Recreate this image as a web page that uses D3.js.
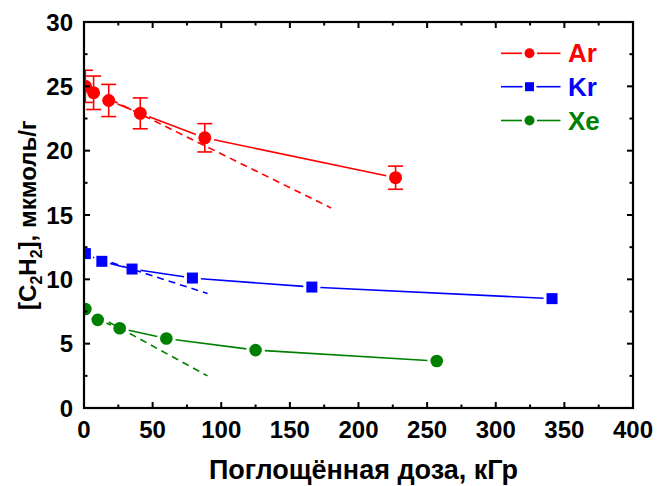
<!DOCTYPE html>
<html>
<head>
<meta charset="utf-8">
<script src="https://cdn.jsdelivr.net/npm/d3@7"></script>
<style>
  body { margin: 0; background: #fff; }
  text { font-family: "Liberation Sans", Arial, sans-serif; font-weight: bold; }
</style>
</head>
<body>
<script>
// absorbed dose, kGy, and C2H2 yield, umol/g, for each matrix
var doseAr = [1, 7, 18, 41, 88, 227];
var concAr = [25.0, 24.5, 23.9, 22.9, 21.0, 17.9];
var errAr  = [1.25, 1.3, 1.25, 1.2, 1.1, 0.9];

var doseKr = [1, 13, 35, 79, 166, 341];
var concKr = [12.0, 11.4, 10.8, 10.1, 9.4, 8.5];

var doseXe = [1, 10, 26, 60, 125, 257];
var concXe = [7.7, 6.85, 6.2, 5.4, 4.5, 3.65];

// initial slope lines (dashed), start and end points
var fitAr = [[20, 23.95], [180, 15.55]];
var fitKr = [[20, 11.3], [90, 8.9]];
var fitXe = [[18, 6.68], [90, 2.5]];

var xTicks = [0, 50, 100, 150, 200, 250, 300, 350, 400];
var yTicks = [0, 5, 10, 15, 20, 25, 30];
var names = ['Ar', 'Kr', 'Xe'];

var width = 657, height = 486;
// plot box edges (pTop, not "top": that one belongs to window)
var pLeft = 84, pRight = 633, pTop = 22, pBottom = 408;

var svg = d3.select('body').append('svg')
    .attr('width', width)
    .attr('height', height);

var x = d3.scaleLinear().domain([0, 400]).range([pLeft, pRight]);
var y = d3.scaleLinear().domain([0, 30]).range([pBottom, pTop]);

var series = [
  { name: 'Ar', color: '#ff0000', shape: 'circle', r: 6.5, dose: doseAr, conc: concAr, err: errAr, fit: fitAr },
  { name: 'Kr', color: '#0000ff', shape: 'square', r: 5.5, dose: doseKr, conc: concKr, err: null, fit: fitKr },
  { name: 'Xe', color: '#008000', shape: 'circle', r: 6.3, dose: doseXe, conc: concXe, err: null, fit: fitXe }
];

svg.append('clipPath').attr('id', 'plot')
  .append('rect')
  .attr('x', pLeft).attr('y', pTop)
  .attr('width', pRight - pLeft).attr('height', pBottom - pTop);

var plot = svg.append('g').attr('clip-path', 'url(#plot)');

// draws a segment that stops short of the markers at both ends
function gapSegment(g, p0, p1, gap0, gap1, color) {
  var dx = p1[0] - p0[0], dy = p1[1] - p0[1];
  var len = Math.sqrt(dx * dx + dy * dy);
  if (len <= gap0 + gap1) return;
  var ux = dx / len, uy = dy / len;
  g.append('line')
    .attr('x1', p0[0] + ux * gap0).attr('y1', p0[1] + uy * gap0)
    .attr('x2', p1[0] - ux * gap1).attr('y2', p1[1] - uy * gap1)
    .attr('stroke', color)
    .attr('stroke-width', 1.6);
}

function marker(g, s, cx, cy, r) {
  if (s.shape === 'circle') {
    g.append('circle').attr('cx', cx).attr('cy', cy).attr('r', r).attr('fill', s.color);
  } else {
    g.append('rect').attr('x', cx - r).attr('y', cy - r)
      .attr('width', 2 * r).attr('height', 2 * r).attr('fill', s.color);
  }
}

series.forEach(function(s) {
  var g = plot.append('g');
  // dashed initial slope
  g.append('line')
    .attr('x1', x(s.fit[0][0])).attr('y1', y(s.fit[0][1]))
    .attr('x2', x(s.fit[1][0])).attr('y2', y(s.fit[1][1]))
    .attr('stroke', s.color)
    .attr('stroke-width', 1.6)
    .attr('stroke-dasharray', '7,5');

  var pts = s.dose.map(function(d, i) { return [x(d), y(s.conc[i])]; });
  for (var i = 1; i < pts.length; i++) {
    gapSegment(g, pts[i - 1], pts[i], s.r + 3, s.r + 3, s.color);
  }

  // error bars
  if (s.err) {
    s.dose.forEach(function(d, i) {
      var cx = x(d), y0 = y(s.conc[i] - s.err[i]), y1 = y(s.conc[i] + s.err[i]);
      g.append('line').attr('x1', cx).attr('x2', cx).attr('y1', y0).attr('y2', y1)
        .attr('stroke', s.color).attr('stroke-width', 1.6);
      [y0, y1].forEach(function(yy) {
        g.append('line').attr('x1', cx - 7.5).attr('x2', cx + 7.5).attr('y1', yy).attr('y2', yy)
          .attr('stroke', s.color).attr('stroke-width', 1.6);
      });
    });
  }

  pts.forEach(function(p) { marker(g, s, p[0], p[1], s.r); });
});

// frame and inward ticks
var axes = svg.append('g').attr('stroke', '#000');
axes.append('rect')
  .attr('x', pLeft).attr('y', pTop)
  .attr('width', pRight - pLeft).attr('height', pBottom - pTop)
  .attr('fill', 'none')
  .attr('stroke-width', 2.2);

d3.range(0, 401, 25).forEach(function(v) {
  var len = v % 50 === 0 ? 6 : 3.5;
  axes.append('line').attr('x1', x(v)).attr('x2', x(v)).attr('y1', pBottom).attr('y2', pBottom - len).attr('stroke-width', 2);
  axes.append('line').attr('x1', x(v)).attr('x2', x(v)).attr('y1', pTop).attr('y2', pTop + len).attr('stroke-width', 2);
});
d3.range(0, 30.1, 2.5).forEach(function(v) {
  var len = v % 5 === 0 ? 6 : 3.5;
  axes.append('line').attr('x1', pLeft).attr('x2', pLeft + len).attr('y1', y(v)).attr('y2', y(v)).attr('stroke-width', 2);
  axes.append('line').attr('x1', pRight).attr('x2', pRight - len).attr('y1', y(v)).attr('y2', y(v)).attr('stroke-width', 2);
});

// tick labels
svg.append('g').selectAll('text')
  .data(xTicks).enter().append('text')
  .attr('x', function(d) { return x(d); })
  .attr('y', 438)
  .attr('text-anchor', 'middle')
  .style('font-size', '24px')
  .text(function(d) { return d; });

svg.append('g').selectAll('text')
  .data(yTicks).enter().append('text')
  .attr('x', 73)
  .attr('y', function(d) { return y(d) + 8.5; })
  .attr('text-anchor', 'end')
  .style('font-size', '24px')
  .text(function(d) { return d; });

// axis titles
svg.append('text')
  .attr('x', (pLeft + pRight) / 2 + 5)
  .attr('y', 479)
  .attr('text-anchor', 'middle')
  .style('font-size', '27px')
  .text('Поглощённая доза, кГр');

var yt = svg.append('text')
  .attr('transform', 'translate(36,' + ((pTop + pBottom) / 2) + ') rotate(-90)')
  .attr('text-anchor', 'middle')
  .style('font-size', '24px');
yt.append('tspan').text('[C');
yt.append('tspan').attr('dy', 6).style('font-size', '16px').text('2');
yt.append('tspan').attr('dy', -6).text('H');
yt.append('tspan').attr('dy', 6).style('font-size', '16px').text('2');
yt.append('tspan').attr('dy', -6).text('], мкмоль/г');

// legend
var legend = svg.append('g');
series.forEach(function(s, i) {
  var ly = [53.3, 86.7, 120.5][i];
  var ms = s.shape === 'circle' ? 5 : 4.5;
  gapSegment(legend, [501, ly], [529.5, ly], 0, ms + 2.5, s.color);
  gapSegment(legend, [529.5, ly], [560.5, ly], ms + 2.5, 0, s.color);
  marker(legend, s, 529.5, ly, ms);
  legend.append('text')
    .attr('x', 568)
    .attr('y', ly + 9)
    .attr('fill', s.color)
    .style('font-size', '26px')
    .text(names[i]);
});
</script>
</body>
</html>
